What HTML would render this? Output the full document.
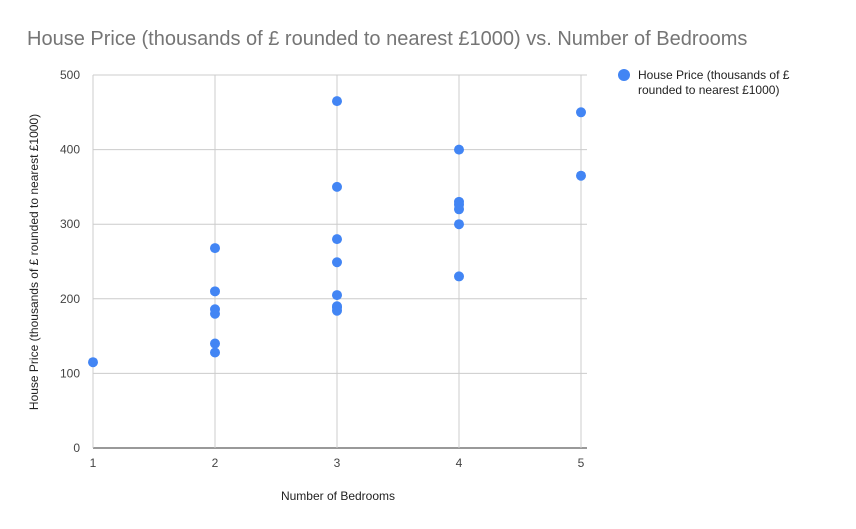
<!DOCTYPE html>
<html><head><meta charset="utf-8"><style>
body{margin:0;background:#fff;}
svg{display:block;font-family:"Liberation Sans",Arial,sans-serif;}
</style></head><body>
<svg id="chart" width="856" height="529">
<text x="27" y="45" font-size="20" fill="#757575">House Price (thousands of £ rounded to nearest £1000) vs. Number of Bedrooms</text>
<g id="grid"></g>
<g id="points"></g>
<text x="338" y="500" font-size="12" fill="#222" text-anchor="middle">Number of Bedrooms</text>
<text transform="translate(38,262) rotate(-90)" font-size="12" fill="#222" text-anchor="middle">House Price (thousands of £ rounded to nearest £1000)</text>
<g>
<circle cx="624" cy="75" r="6" fill="#4285f4"></circle>
<text x="638" y="79" font-size="12" fill="#222"><tspan x="638">House Price (thousands of £</tspan><tspan x="638" dy="15">rounded to nearest £1000)</tspan></text>
</g>
</svg>
<script>
const bedrooms=[1,2,2,2,2,2,2,3,3,3,3,3,3,3,3,4,4,4,4,4,4,5,5];
const prices=[115,268,210,186,180,140,128,465,350,280,249,205,190,188,184,400,330,326,320,300,230,450,365];
const xTicks=[1,2,3,4,5];
const yTicks=[0,100,200,300,400,500];
const X0=93,X1=581,Y0=448,Y1=75;
const xs=v=>X0+(v-1)/(5-1)*(X1-X0);
const ys=v=>Y0-v/500*(Y0-Y1);
const NS="http://www.w3.org/2000/svg";
const grid=document.getElementById('grid');
const pts=document.getElementById('points');
function mk(tag,attrs,parent){const e=document.createElementNS(NS,tag);for(const k in attrs)e.setAttribute(k,attrs[k]);parent.appendChild(e);return e;}
yTicks.forEach(t=>{
  const l=mk('line',{x1:X0,x2:X1+6,y1:ys(t),y2:ys(t),stroke:t===0?'#333':'#ccc','stroke-width':1},grid);
  
  
  const tx=mk('text',{x:X0-13,y:ys(t)+4,'font-size':12,fill:'#444','text-anchor':'end'},grid);
  tx.textContent=t;
  
  
});
xTicks.forEach(t=>{
  const l=mk('line',{x1:xs(t),x2:xs(t),y1:Y1,y2:Y0,stroke:'#ccc','stroke-width':1},grid);
  
  
  const tx=mk('text',{x:xs(t),y:Y0+19,'font-size':12,fill:'#444','text-anchor':'middle'},grid);
  tx.textContent=t;
  
  
});
bedrooms.forEach((b,i)=>{
  const c=mk('circle',{cx:xs(b),cy:ys(prices[i]),r:5,fill:'#4285f4'},pts);
  
  
});
</script>
</body></html>
